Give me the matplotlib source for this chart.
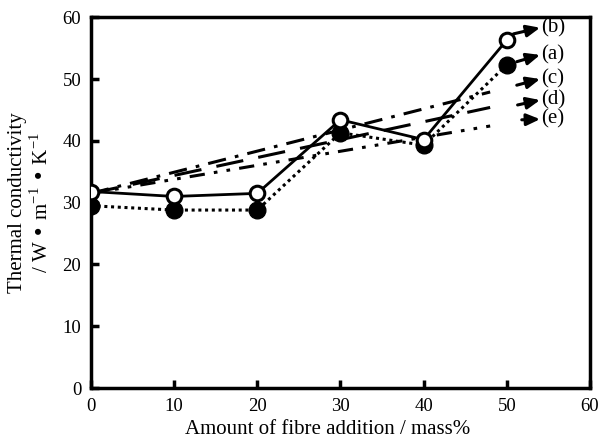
import numpy as np
import matplotlib
matplotlib.use("Agg")
from matplotlib import pyplot as plt

# measured series
fibre = [0, 10, 20, 30, 40, 50]
cond_a = [29.5, 28.8, 28.8, 41.3, 39.3, 52.3]
cond_b = [31.8, 31.0, 31.5, 43.4, 40.2, 56.3]

# predicted lines (c), (d), (e)
pred_x = [0, 48]
pred_c = [31.5, 47.9]
pred_d = [31.5, 45.4]
pred_e = [31.5, 42.4]

labels = ["(b)", "(a)", "(c)", "(d)", "(e)"]
arrow_start = [(50.8, 57.3), (51.2, 52.8), (51.2, 49.0), (51.3, 45.8), (51.8, 43.4)]
arrow_end_y = [58.3, 53.9, 50.0, 46.6, 43.5]

plt.rcParams['font.family'] = ['Liberation Serif', 'DejaVu Serif']

fig = plt.figure(figsize=(6.02, 4.41), dpi=100)
ax = fig.add_axes([0.151, 0.120, 0.829, 0.841])

ax.plot(pred_x, pred_c, color='k', lw=2.2, ls=(0, (6, 3, 1.2, 3)))
ax.plot(pred_x, pred_d, color='k', lw=2.2, ls=(0, (9, 5)))
ax.plot(pred_x, pred_e, color='k', lw=2.2, ls=(0, (5, 3, 1.2, 3, 1.2, 3)))

ax.plot(fibre, cond_a, color='k', lw=2.2, ls=(0, (1, 1.2)), marker='o', ms=12,
        mfc='k', mec='k', zorder=3)
ax.plot(fibre, cond_b, color='k', lw=2, marker='o', ms=10.5,
        mfc='white', mec='k', mew=2.2, zorder=4)

for lab, (x0, y0), y1 in zip(labels, arrow_start, arrow_end_y):
    ax.annotate("", xy=(54.0, y1), xytext=(x0, y0),
                arrowprops=dict(arrowstyle='-|>,head_length=0.8,head_width=0.35',
                                color='k', lw=2.2,
                                mutation_scale=10, shrinkA=0, shrinkB=0))
    ax.text(54.1, y1, lab, fontsize=15, va='center', ha='left')

ax.set_xlim(0, 60)
ax.set_ylim(0, 60)
ax.set_xticks([0, 10, 20, 30, 40, 50, 60])
ax.set_yticks([0, 10, 20, 30, 40, 50, 60])
for s in ax.spines.values():
    s.set_linewidth(2.5)
ax.tick_params(direction='in', length=6, width=2.5, labelsize=13.5, pad=7)
ax.set_xlabel("Amount of fibre addition / mass%", fontsize=15)
ax.xaxis.set_label_coords(0.475, -0.085)
ax.set_ylabel("Thermal conductivity\n/ W \u2022 m$^{\\mathregular{-1}}$ \u2022 K$^{\\mathregular{-1}}$",
              fontsize=15, labelpad=7, linespacing=1.2)

plt.savefig("out.png", dpi=100)
